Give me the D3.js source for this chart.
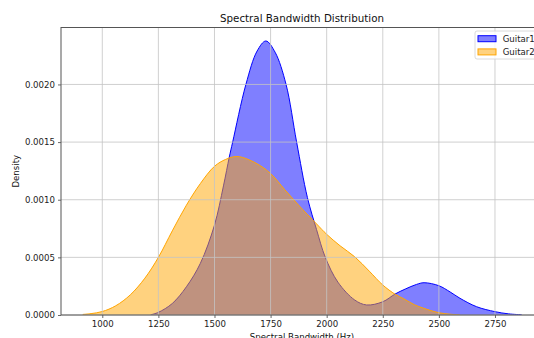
<!DOCTYPE html>
<html>
<head>
<meta charset="utf-8">
<script src="https://cdn.jsdelivr.net/npm/d3@7/dist/d3.min.js"></script>
<style>
  html, body { margin: 0; padding: 0; background: #fff; }
  svg { display: block; font-family: "DejaVu Sans", sans-serif; }
</style>
</head>
<body>
<svg id="chart" width="534" height="338"></svg>
<script>
// Kernel density estimates of spectral bandwidth (Hz) for two guitars
const guitar1Hz = [1216, 1250, 1312, 1375, 1437, 1500, 1540, 1566, 1581, 1640, 1690, 1729, 1770, 1819, 1866, 1914, 1955, 1994, 2050, 2125, 2178, 2250, 2305, 2350, 2400, 2434, 2500, 2550, 2594, 2668, 2750, 2810, 2869];
const guitar1Density = [0.000002, 0.000023, 0.0001, 0.000245, 0.000448, 0.00078, 0.00112, 0.00137, 0.0015, 0.0020, 0.00229, 0.002377, 0.00228, 0.0020, 0.0015, 0.00102, 0.00074, 0.0005, 0.000285, 0.00013, 0.000087, 0.000115, 0.000182, 0.000225, 0.000265, 0.00028, 0.000254, 0.0002, 0.000145, 0.000072, 0.000029, 0.00001, 0.000002];

const guitar2Hz = [913, 950, 1000, 1060, 1125, 1190, 1250, 1312, 1375, 1437, 1500, 1550, 1599, 1650, 1700, 1750, 1812, 1875, 1955, 2000, 2060, 2125, 2190, 2250, 2305, 2345, 2390, 2430, 2500, 2550, 2594];
const guitar2Density = [0.000005, 0.000012, 0.00003, 0.00008, 0.000175, 0.00032, 0.0005, 0.00073, 0.000953, 0.00114, 0.00129, 0.00135, 0.001375, 0.00135, 0.0013, 0.001228, 0.00109, 0.000953, 0.00079, 0.0007, 0.0006, 0.000505, 0.00038, 0.00026, 0.00018, 0.000139, 0.00009, 0.00006, 0.00002, 0.000007, 0.000001];

const seriesNames = ["Guitar1", "Guitar2"];
const seriesColors = ["#0000ff", "#ffa500"];

const xTicks = [1000, 1250, 1500, 1750, 2000, 2250, 2500, 2750];
const yTicks = [0, 0.0005, 0.0010, 0.0015, 0.0020];

const svg = d3.select("#chart");
const plotLeft = 61, plotRight = 543, plotTop = 27.5, plotBottom = 315;

const x = d3.scaleLinear().domain([816, 2964]).range([plotLeft, plotRight]);
const y = d3.scaleLinear().domain([0, 0.002494]).range([plotBottom, plotTop]);

const series = [
  { name: seriesNames[0], color: seriesColors[0], pts: guitar1Hz.map((h, i) => [h, guitar1Density[i]]) },
  { name: seriesNames[1], color: seriesColors[1], pts: guitar2Hz.map((h, i) => [h, guitar2Density[i]]) }
];

svg.append("defs").append("clipPath").attr("id", "plotclip")
  .append("rect").attr("x", plotLeft).attr("y", plotTop).attr("width", plotRight - plotLeft).attr("height", plotBottom - plotTop);

const plot = svg.append("g").attr("clip-path", "url(#plotclip)");

const area = d3.area().x(d => x(d[0])).y0(y(0)).y1(d => y(d[1])).curve(d3.curveCatmullRom.alpha(0.5));
const line = d3.line().x(d => x(d[0])).y(d => y(d[1])).curve(d3.curveCatmullRom.alpha(0.5));

// Each density: translucent fill, then its outline
series.forEach(s => {
  plot.append("path").datum(s.pts).attr("d", area)
    .attr("fill", s.color).attr("fill-opacity", 0.5);
  plot.append("path").datum(s.pts).attr("d", line)
    .attr("fill", "none").attr("stroke", s.color).attr("stroke-width", 1);
});

// Grid lines
const grid = svg.append("g").attr("stroke", "#c4c4c4").attr("stroke-width", 0.8);
xTicks.forEach(t => grid.append("line").attr("x1", x(t)).attr("x2", x(t)).attr("y1", plotTop).attr("y2", plotBottom));
yTicks.forEach(t => grid.append("line").attr("x1", plotLeft).attr("x2", plotRight).attr("y1", y(t)).attr("y2", y(t)));

// Axes
const xAxis = d3.axisBottom(x).tickValues(xTicks).tickSize(3).tickPadding(2.5).tickFormat(d3.format("d"));
const yAxis = d3.axisLeft(y).tickValues(yTicks).tickSize(3).tickPadding(3).tickFormat(d3.format(".4f"));

const gx = svg.append("g").attr("transform", `translate(0,${plotBottom})`).call(xAxis);
const gy = svg.append("g").attr("transform", `translate(${plotLeft},0)`).call(yAxis);
[gx, gy].forEach(g => {
  g.select(".domain").remove();
  g.selectAll(".tick line").attr("stroke", "#444").attr("stroke-width", 0.8);
  g.selectAll(".tick text").attr("fill", "#222").attr("font-size", "8.6px").attr("font-family", "DejaVu Sans");
});

// Spines
const spines = svg.append("g").attr("stroke", "#555").attr("stroke-width", 1).attr("fill", "none");
spines.append("rect").attr("x", plotLeft).attr("y", plotTop).attr("width", plotRight - plotLeft).attr("height", plotBottom - plotTop);

// Title and axis labels
svg.append("text").attr("x", (plotLeft + plotRight) / 2).attr("y", 22).attr("text-anchor", "middle")
  .attr("font-size", "10.3px").attr("fill", "#111").text("Spectral Bandwidth Distribution");
svg.append("text").attr("x", (plotLeft + plotRight) / 2).attr("y", 339.5).attr("text-anchor", "middle")
  .attr("font-size", "8.6px").attr("fill", "#111").text("Spectral Bandwidth (Hz)");
svg.append("text").attr("transform", `translate(19,${(plotTop + plotBottom) / 2}) rotate(-90)`).attr("text-anchor", "middle")
  .attr("font-size", "8.6px").attr("fill", "#111").text("Density");

// Legend
const lg = svg.append("g");
lg.append("rect").attr("x", 475).attr("y", 31).attr("width", 64).attr("height", 28).attr("rx", 2)
  .attr("fill", "#fff").attr("fill-opacity", 0.8).attr("stroke", "#d0d0d0").attr("stroke-width", 0.8);
series.forEach((s, i) => {
  const cy = 38.7 + i * 13.2;
  lg.append("rect").attr("x", 478).attr("y", cy - 3).attr("width", 18).attr("height", 6)
    .attr("fill", s.color).attr("fill-opacity", 0.5).attr("stroke", s.color).attr("stroke-width", 1);
  lg.append("text").attr("x", 502.7).attr("y", cy + 3.1).attr("font-size", "8.6px").attr("fill", "#222").text(s.name);
});
</script>
</body>
</html>
